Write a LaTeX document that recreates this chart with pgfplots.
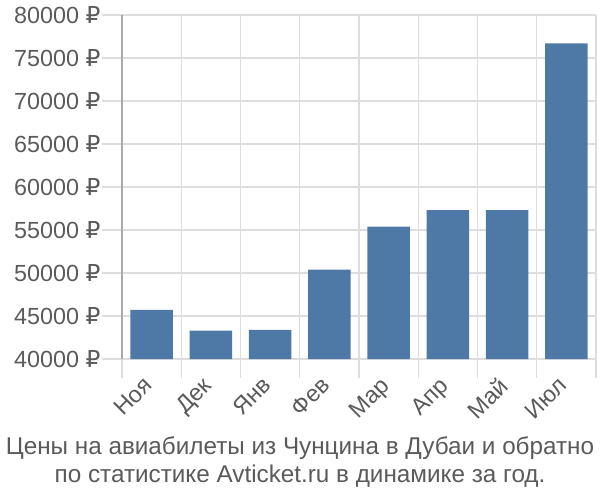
\documentclass[border=0pt]{standalone}
\usepackage{fontspec}
\setmainfont{Liberation Sans}
\newfontfamily\rubfont{DejaVu Sans}
\usepackage{pgfplots}
\pgfplotsset{compat=1.18}
\definecolor{barblue}{RGB}{78,121,167}
\definecolor{gridgray}{RGB}{221,221,221}
\definecolor{axisgray}{RGB}{170,170,170}
\definecolor{textgray}{RGB}{90,90,90}
\begin{document}
\begin{tikzpicture}
\begin{axis}[
  at={(0,0)}, anchor=south west,
  scale only axis, width=355.5pt, height=258pt,
  xmin=-0.5, xmax=7.5, ymin=40000, ymax=80000,
  xtick={0,1,2,3,4,5,6,7},
  xticklabels={Ноя,Дек,Янв,Фев,Мар,Апр,Май,Июл},
  minor xtick={-0.5,0.5,1.5,2.5,3.5,4.5,5.5,6.5,7.5},
  ytick={40000,45000,50000,55000,60000,65000,70000,75000,80000},
  scaled y ticks=false,
  yticklabel={\pgfmathprintnumber[fixed,1000 sep={}]{\tick}~{\rubfont ₽}},
  /pgf/number format/assume math mode=true,
  xminorgrids, ymajorgrids,
  minor grid style={gridgray, line width=1pt},
  major grid style={gridgray, line width=1pt},
  axis lines*=left,
  x axis line style={gridgray, line width=1pt},
  y axis line style={axisgray, line width=1pt},
  tick align=outside,
  major tick length=15pt, minor tick length=14pt,
  major x tick style={draw=none},
  minor x tick style={gridgray, line width=1pt},
  major y tick style={gridgray, line width=1pt},
  ticklabel style={font=\fontsize{17.5}{20}\selectfont, text=textgray},
  xticklabel style={font=\fontsize{17.5}{20}\selectfont, rotate=45, anchor=north east, inner sep=1pt, xshift=-2pt, yshift=8pt},
  yticklabel style={inner sep=1pt},
  ybar, bar width=0.72,
]
\addplot[fill=barblue, draw=none] coordinates {
(0,45700) (1,43300) (2,43400) (3,50400) (4,55400) (5,57300) (6,57300) (7,76700)};
\end{axis}
\node[align=center, text=textgray, font=\fontsize{18.2}{21}\selectfont] at (133.5pt,-77.5pt)
 {Цены на авиабилеты из Чунцина в Дубаи и обратно\\по статистике Avticket.ru в динамике за год.};
\pgfresetboundingbox
\useasboundingbox (-91.5pt,-105.75pt) rectangle (358.5pt,269.25pt);
\end{tikzpicture}
\end{document}
